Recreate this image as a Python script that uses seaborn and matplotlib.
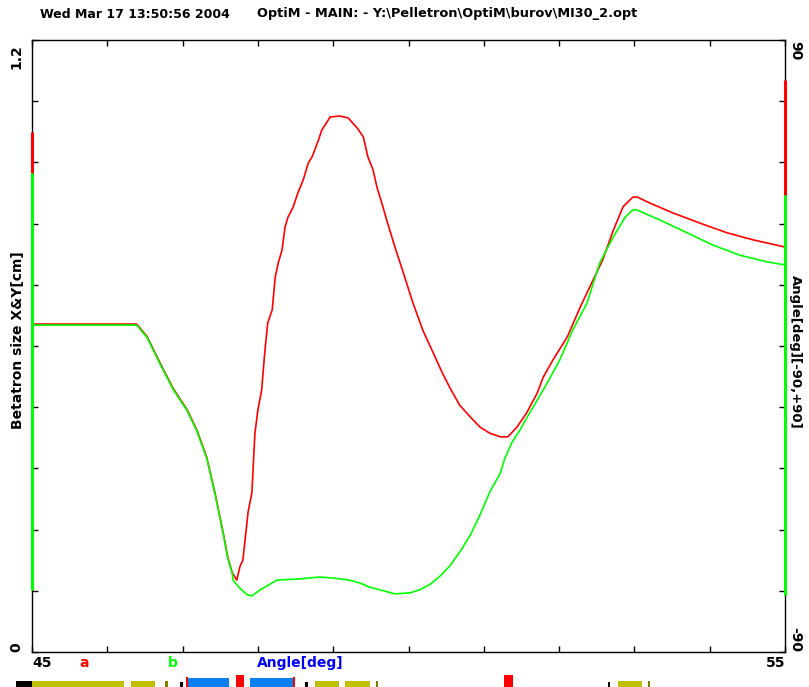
import seaborn as sns
import matplotlib.pyplot as plt
import pandas as pd

# beam envelope (angle in deg, size in cm)
red_x = [45.00, 46.39, 46.53, 46.70, 46.87, 47.06, 47.19, 47.32, 47.43, 47.54, 47.60,
         47.66, 47.72, 47.76, 47.80, 47.87, 47.92, 47.96, 48.00, 48.05, 48.09, 48.13,
         48.19, 48.23, 48.27, 48.32, 48.36, 48.40, 48.47, 48.53, 48.60, 48.67, 48.72,
         48.79, 48.85, 48.96, 49.09, 49.20, 49.32, 49.40, 49.46, 49.53, 49.58, 49.66,
         49.71, 49.82, 49.95, 50.06, 50.19, 50.33, 50.45, 50.55, 50.68, 50.82, 50.95,
         51.08, 51.22, 51.32, 51.44, 51.57, 51.71, 51.79, 51.92, 52.11, 52.28, 52.45,
         52.58, 52.72, 52.85, 52.98, 53.04, 53.21, 53.51, 53.87, 54.23, 54.58, 55.00]
red_y = [0.643, 0.643, 0.618, 0.567, 0.518, 0.475, 0.435, 0.382, 0.312, 0.233, 0.186,
         0.155, 0.141, 0.167, 0.180, 0.275, 0.312, 0.429, 0.475, 0.514, 0.586, 0.645,
         0.671, 0.735, 0.763, 0.788, 0.833, 0.853, 0.873, 0.900, 0.925, 0.959, 0.971,
         0.998, 1.024, 1.049, 1.051, 1.047, 1.027, 1.010, 0.971, 0.945, 0.912, 0.873,
         0.847, 0.794, 0.735, 0.684, 0.631, 0.586, 0.547, 0.518, 0.484, 0.461, 0.441,
         0.429, 0.422, 0.422, 0.441, 0.469, 0.508, 0.539, 0.573, 0.618, 0.676, 0.729,
         0.769, 0.827, 0.873, 0.892, 0.892, 0.880, 0.861, 0.841, 0.822, 0.808, 0.794]

green_x = [45.00, 46.39, 46.53, 46.70, 46.87, 47.06, 47.19, 47.32, 47.43, 47.54, 47.60,
           47.66, 47.67, 47.76, 47.86, 47.92, 48.03, 48.16, 48.25, 48.52, 48.82, 49.00,
           49.22, 49.36, 49.49, 49.62, 49.82, 50.02, 50.15, 50.29, 50.42, 50.55, 50.68,
           50.82, 50.95, 51.08, 51.22, 51.28, 51.37, 51.48, 51.57, 51.71, 51.84, 52.01,
           52.18, 52.37, 52.54, 52.72, 52.88, 52.98, 53.03, 53.34, 53.70, 54.04, 54.40,
           54.76, 55.00]
green_y = [0.641, 0.641, 0.616, 0.565, 0.516, 0.473, 0.433, 0.380, 0.310, 0.231, 0.184,
           0.153, 0.141, 0.125, 0.112, 0.110, 0.122, 0.133, 0.141, 0.143, 0.147, 0.145,
           0.141, 0.135, 0.127, 0.122, 0.114, 0.116, 0.122, 0.133, 0.149, 0.169, 0.196,
           0.229, 0.269, 0.314, 0.351, 0.380, 0.410, 0.435, 0.459, 0.494, 0.527, 0.573,
           0.631, 0.684, 0.763, 0.814, 0.853, 0.867, 0.867, 0.847, 0.822, 0.798, 0.778,
           0.765, 0.759]

# phase traces squashed onto the frame edges (x, y from, y to)
edge_x = [45, 45, 55, 55]
edge_lo = [0.94, 0.122, 0.896, 0.112]
edge_hi = [1.02, 0.94, 1.122, 0.896]
edge_col = ['red', '#00ff00', 'red', '#00ff00']

# lattice strip under the plot
elem_start = [44.79, 45.00, 46.31, 46.77, 46.97, 47.05, 47.71, 47.90, 48.63, 48.76,
              49.16, 49.57, 51.27, 52.65, 52.78, 53.18, 47.04, 48.46]
elem_len = [0.21, 1.22, 0.32, 0.03, 0.03, 0.57, 0.11, 0.57, 0.03, 0.32,
            0.33, 0.03, 0.12, 0.03, 0.32, 0.03, 0.03, 0.03]
elem_kind = ['drift', 'quad', 'quad', 'corr', 'mon', 'bend', 'sol', 'bend', 'mon', 'quad',
             'quad', 'corr', 'sol', 'mon', 'quad', 'corr', 'edge', 'edge']

kind_color = {'drift': 'black', 'quad': '#c0c000', 'corr': '#808000', 'mon': 'black',
              'bend': '#0a80f0', 'sol': 'red', 'edge': 'red'}
kind_h = {'drift': 6, 'quad': 6, 'corr': 6, 'mon': 5, 'bend': 9, 'sol': 12, 'edge': 10}

stamp = 'Wed Mar 17 13:50:56 2004'
fname = 'OptiM - MAIN: - Y:\\Pelletron\\OptiM\\burov\\MI30_2.opt'

df = pd.concat([
    pd.DataFrame({'angle': red_x, 'size': red_y, 'plane': 'a'}),
    pd.DataFrame({'angle': green_x, 'size': green_y, 'plane': 'b'}),
])

sns.set_style('white')
plt.rcParams['font.family'] = ['DejaVu Sans']
plt.rcParams['font.weight'] = 'bold'
plt.rcParams['text.color'] = 'black'

fig = plt.figure(figsize=(8.09, 6.87), dpi=100)
ax = fig.add_axes([0.0396, 0.0509, 0.9307, 0.8909])

# right-hand angle scale
ax2 = ax.twinx()
ax2.set_ylim(-90, 90)
ax2.set_yticks(range(-90, 91, 18))
ax2.set_yticklabels([])
ax2.tick_params(direction='in', length=4, width=1, color='black')
ax2.grid(False)
for s in ax2.spines.values():
    s.set_visible(False)

ax.set_zorder(ax2.get_zorder() + 1)
ax.patch.set_visible(False)

sns.lineplot(data=df, x='angle', y='size', hue='plane', palette={'a': 'red', 'b': '#00ff00'},
             estimator=None, sort=False, legend=False, linewidth=1.2, ax=ax)
ax.vlines(edge_x, edge_lo, edge_hi, colors=edge_col, linewidth=2.2, clip_on=False, zorder=5)

ax.set_xlim(45, 55)
ax.set_ylim(0, 1.2)
ax.set_xticks(range(45, 56))
ax.set_yticks([i * 0.12 for i in range(11)])
ax.set_xticklabels([])
ax.set_yticklabels([])
ax.set_xlabel('')
ax.set_ylabel('')
ax.tick_params(direction='in', length=4, width=1, color='black',
               top=True, bottom=True, left=True, right=False)
for s in ax.spines.values():
    s.set_color('black')
    s.set_linewidth(1)
    s.set_zorder(1)

fs = 10
tr = ax.transAxes
ax.text(-0.011, 0.993, '1.2', rotation=90, ha='right', va='top', fontsize=fs, transform=tr)
ax.text(-0.011, 0.0, '0', rotation=90, ha='right', va='bottom', fontsize=fs, transform=tr)
ax.text(-0.009, 0.51, 'Betatron size X&Y[cm]', rotation=90, ha='right', va='center',
        fontsize=fs, transform=tr)
ax.text(1.005, 0.998, '90', rotation=270, ha='left', va='top', fontsize=fs, transform=tr)
ax.text(1.005, 0.0, '-90', rotation=270, ha='left', va='bottom', fontsize=fs, transform=tr)
ax.text(1.005, 0.49, 'Angle[deg][-90,+90]', rotation=270, ha='left', va='center',
        fontsize=9.5, transform=tr)
ax.text(0.0, -0.006, '45', ha='left', va='top', fontsize=fs, transform=tr)
ax.text(1.0, -0.006, '55', ha='right', va='top', fontsize=fs, transform=tr)
ax.text(0.069, -0.006, 'a', ha='center', va='top', fontsize=fs, color='red', transform=tr)
ax.text(0.187, -0.006, 'b', ha='center', va='top', fontsize=fs, color='#00ff00', transform=tr)
ax.text(0.299, -0.006, 'Angle[deg]', ha='left', va='top', fontsize=fs, color='#0000ff',
        transform=tr)

fig.text(40 / 809, 1 - 14 / 687, stamp, ha='left', va='center', fontsize=9)
fig.text(257 / 809, 1 - 14 / 687, fname, ha='left', va='center', fontsize=9.3)

strip = fig.add_axes([0.0396, 0.0, 0.9307, 0.0175])
strip.set_xlim(45, 55)
strip.set_ylim(0, 12)
strip.axis('off')
bars = strip.bar(elem_start, [kind_h[k] for k in elem_kind], width=elem_len, align='edge',
                 color=[kind_color[k] for k in elem_kind], linewidth=0)
for p in bars:
    p.set_clip_on(False)

fig.savefig('out.png', dpi=100)
